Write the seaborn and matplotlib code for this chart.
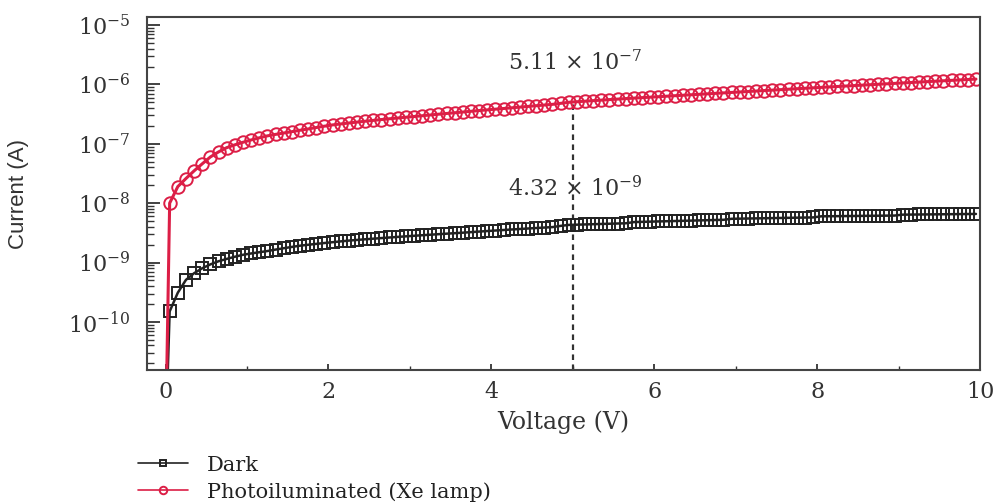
import numpy as np
import pandas as pd
import matplotlib
matplotlib.use("Agg")
import matplotlib.pyplot as plt
import matplotlib.ticker as mticker
from matplotlib import font_manager
import seaborn as sns

sns.set_style("ticks")
plt.rcParams["font.family"] = ["DejaVu Serif"]
plt.rcParams["mathtext.fontset"] = "dejavuserif"

# voltage sweep (V): first point at 0 V, then every 0.1 V
voltage = [0.0] + [round(0.05 + 0.1 * k, 2) for k in range(100)]

# dark current (x 1e-9 A), first value is below the axis (sign change near 0 V)
dark_nA = [0.001,
           0.15, 0.31, 0.51, 0.66, 0.80, 0.93, 1.05, 1.15, 1.25, 1.35,
           1.42, 1.49, 1.56, 1.65, 1.74, 1.83, 1.92, 1.99, 2.06, 2.13,
           2.20, 2.27, 2.34, 2.40, 2.46, 2.52, 2.58, 2.64, 2.70, 2.76,
           2.82, 2.88, 2.94, 3.00, 3.06, 3.12, 3.18, 3.25, 3.32, 3.39,
           3.46, 3.53, 3.60, 3.67, 3.74, 3.81, 3.88, 3.95, 4.14, 4.30,
           4.34, 4.38, 4.42, 4.46, 4.50, 4.54, 4.58, 4.80, 4.84, 4.88,
           4.92, 4.96, 5.00, 5.04, 5.08, 5.12, 5.16, 5.20, 5.24, 5.45,
           5.48, 5.51, 5.54, 5.57, 5.60, 5.63, 5.66, 5.69, 5.72, 5.75,
           6.00, 6.02, 6.04, 6.06, 6.08, 6.10, 6.12, 6.14, 6.16, 6.18,
           6.40, 6.42, 6.44, 6.46, 6.48, 6.50, 6.52, 6.54, 6.56, 6.58]

# photocurrent under Xe lamp (x 1e-7 A)
light_e7 = [0.00001,
            0.10, 0.19, 0.26, 0.35, 0.46, 0.60, 0.73, 0.86, 0.96, 1.06,
            1.16, 1.26, 1.36, 1.44, 1.52, 1.60, 1.69, 1.78, 1.88, 1.98,
            2.08, 2.16, 2.24, 2.32, 2.40, 2.48, 2.56, 2.64, 2.72, 2.80,
            2.88, 2.97, 3.06, 3.15, 3.24, 3.33, 3.43, 3.53, 3.63, 3.73,
            3.83, 3.93, 4.04, 4.15, 4.26, 4.38, 4.50, 4.62, 4.80, 5.00,
            5.11, 5.22, 5.33, 5.44, 5.55, 5.66, 5.77, 5.88, 5.99, 6.10,
            6.21, 6.33, 6.45, 6.57, 6.69, 6.81, 6.94, 7.07, 7.20, 7.33,
            7.46, 7.60, 7.74, 7.88, 8.02, 8.16, 8.31, 8.46, 8.61, 8.76,
            8.91, 9.07, 9.23, 9.39, 9.55, 9.72, 9.89, 10.06, 10.23, 10.41,
            10.59, 10.77, 10.95, 11.14, 11.33, 11.52, 11.71, 11.90, 12.10, 12.30]

# values marked at 5 V
mark_v = 5.0
light_at_mark = 5.11e-7
dark_at_mark = 4.32e-9

df = pd.DataFrame({
    "Voltage": voltage,
    "Dark": np.array(dark_nA) * 1e-9,
    "Light": np.array(light_e7) * 1e-7,
})

red = "#dc1e46"
black = "#222222"
txt = "#333333"

installed = {f.name for f in font_manager.fontManager.ttflist}
ylab_font = "Liberation Sans Narrow" if "Liberation Sans Narrow" in installed else "Liberation Sans"

fig = plt.figure(figsize=(9.99, 5.04), dpi=100)
ax = fig.add_axes([0.147, 0.266, 0.834, 0.700])

sns.lineplot(data=df, x="Voltage", y="Dark", ax=ax, color=black, lw=1.8,
             marker="s", markersize=8, markerfacecolor="none",
             markeredgecolor=black, markeredgewidth=1.4,
             estimator=None, sort=False, label="Dark")
sns.lineplot(data=df, x="Voltage", y="Light", ax=ax, color=red, lw=2.2,
             marker="o", markersize=9, markerfacecolor="none",
             markeredgecolor=red, markeredgewidth=1.4,
             estimator=None, sort=False, label="Photoiluminated (Xe lamp)")

ax.set_yscale("log")
ax.set_xlim(-0.23, 10)
ax.set_ylim(1.55e-11, 1.36e-5)

# dashed marker line at 5 V
ax.vlines(mark_v, 1.55e-11, light_at_mark, colors=txt,
          linestyles=(0, (2.5, 2)), lw=1.6, zorder=1)
ax.annotate(r"5.11 $\times$ 10$^{-7}$", xy=(mark_v, light_at_mark),
            xytext=(2, 28), textcoords="offset points", ha="center",
            va="center", fontsize=16, color=txt)
ax.annotate(r"4.32 $\times$ 10$^{-9}$", xy=(mark_v, dark_at_mark),
            xytext=(2, 26), textcoords="offset points", ha="center",
            va="center", fontsize=16, color=txt)

ax.set_xticks([0, 2, 4, 6, 8, 10])
ax.xaxis.set_minor_locator(mticker.MultipleLocator(1))
ax.set_yticks([1e-10, 1e-9, 1e-8, 1e-7, 1e-6, 1e-5])
ax.yaxis.set_minor_locator(mticker.LogLocator(base=10, subs=np.arange(2, 10), numticks=100))
ax.yaxis.set_minor_formatter(mticker.NullFormatter())

ax.tick_params(axis="y", which="major", direction="in", length=9, width=1.3,
               labelsize=16, colors=txt, pad=12)
ax.tick_params(axis="y", which="minor", direction="in", length=5, width=1.0,
               colors=txt)
ax.tick_params(axis="x", which="major", direction="in", length=4, width=1.3,
               labelsize=16, colors=txt, pad=8)
ax.tick_params(axis="x", which="minor", direction="in", length=3, width=1.0,
               colors=txt)

for sp in ax.spines.values():
    sp.set_visible(True)
    sp.set_color("#444444")
    sp.set_linewidth(1.5)

ax.set_xlabel("Voltage (V)", fontsize=17, color=txt, labelpad=5)
ax.set_ylabel("Current (A)", fontsize=16, color=txt,
              family=[ylab_font, "DejaVu Sans"], labelpad=28)

handles, labels = ax.get_legend_handles_labels()
ax.legend_.remove()
fig.legend(handles, labels, loc="upper left", bbox_to_anchor=(0.138, 0.096),
           frameon=False, fontsize=15, markerscale=0.6, handlelength=2.4,
           labelspacing=0.35, handletextpad=0.9, borderpad=0,
           borderaxespad=0, labelcolor="#222222")
for h in fig.legends[0].legend_handles:
    h.set_linewidth(1.2)

fig.savefig("out.png", dpi=100)
